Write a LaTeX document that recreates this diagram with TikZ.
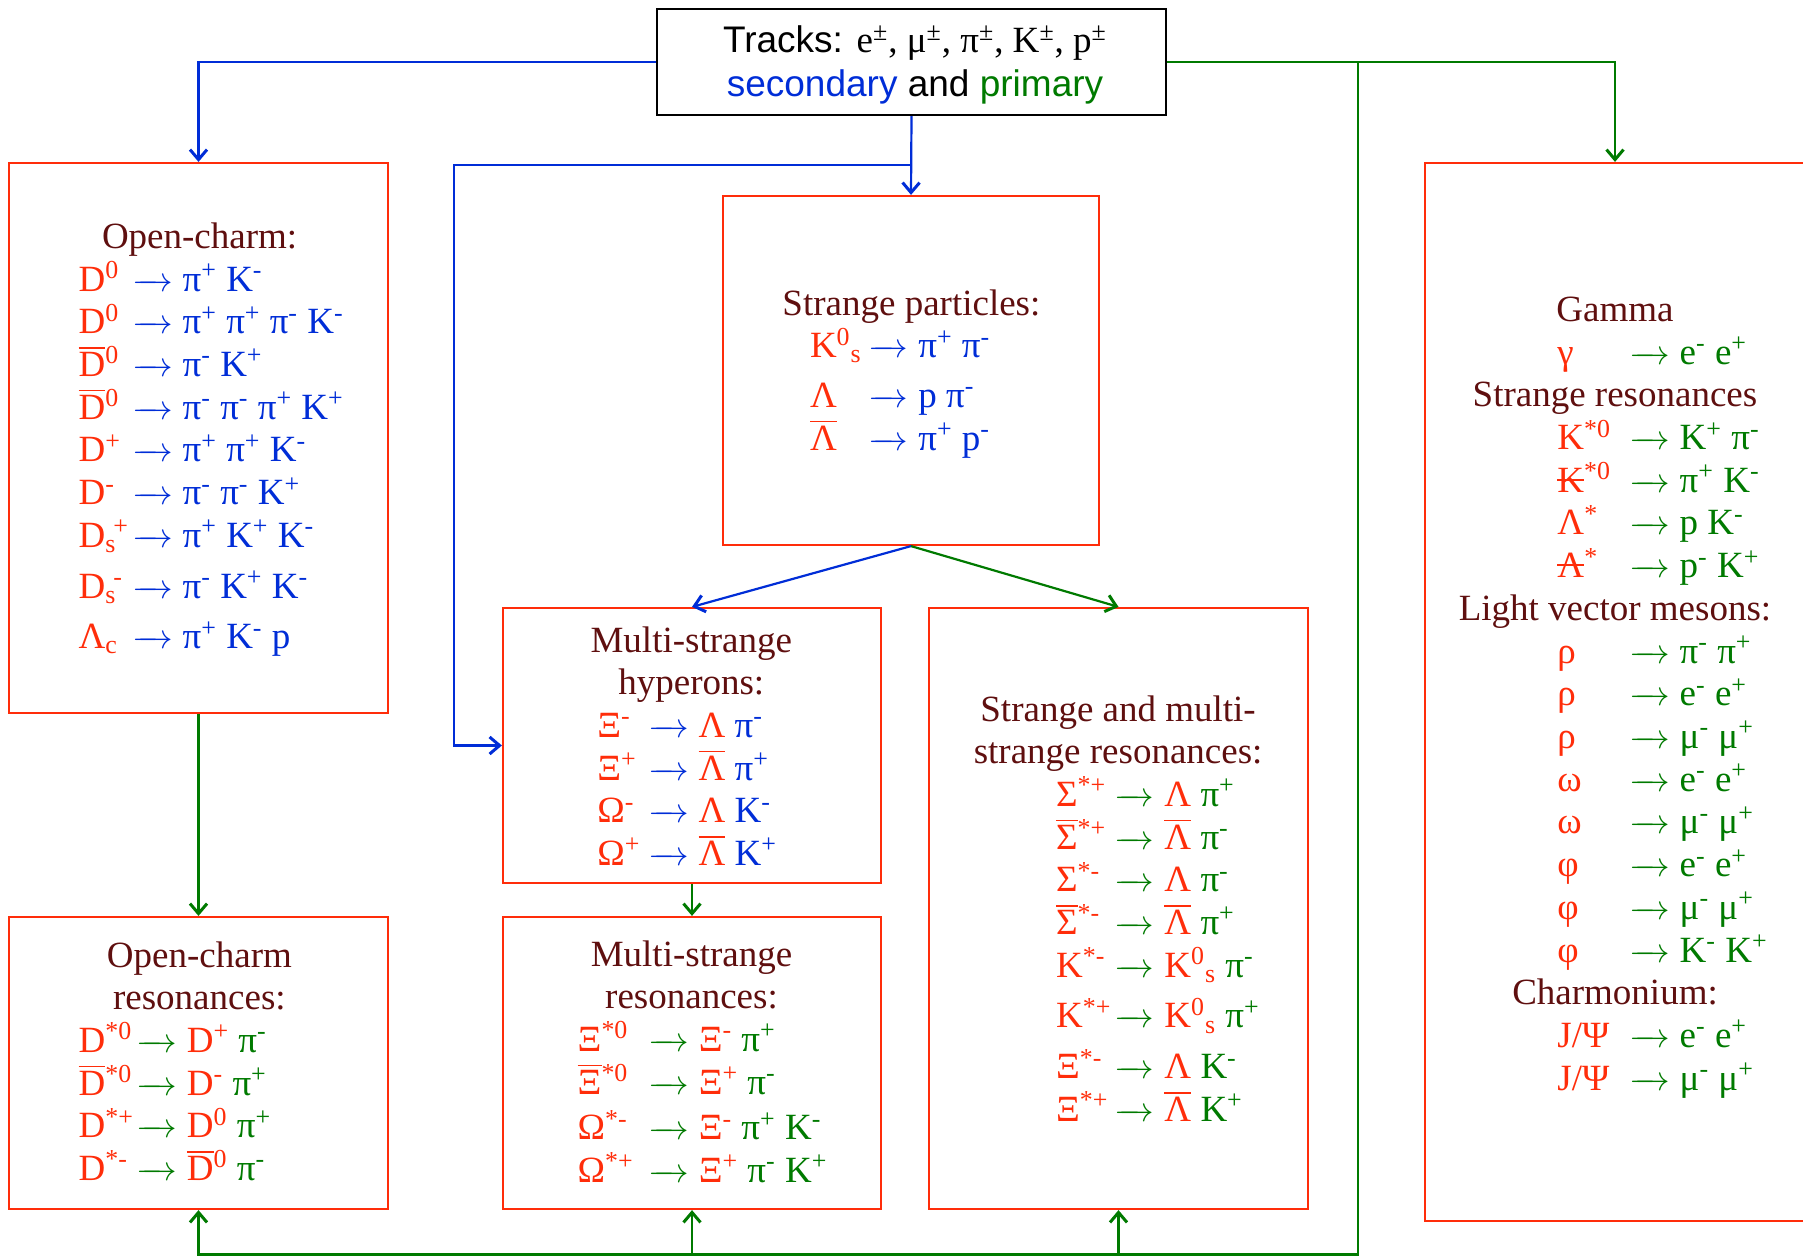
\documentclass[tikz,border=0pt]{standalone}
\usepackage{fontspec}
\setmainfont{Liberation Serif}
\newfontfamily\trkfont{Liberation Sans}
\usetikzlibrary{arrows.meta,positioning}

\definecolor{pred}{RGB}{255,45,10}
\definecolor{ttlc}{RGB}{95,15,15}
\definecolor{tblue}{RGB}{0,45,215}
\definecolor{tgreen}{RGB}{0,122,0}

\newcommand{\deckfont}{\fontsize{18.5}{21.35}\selectfont}
\newcommand{\trktxt}{\fontsize{18.5}{22}\selectfont\trkfont}
\newcommand{\hi}[1]{\smash{\textsuperscript{#1}}}
\newcommand{\lo}[1]{\smash{\textsubscript{#1}}}
\newcommand{\pr}[1]{\textcolor{pred}{#1}}
\newcommand{\anti}[1]{\ooalign{#1\cr\leaders\hrule height .8em depth -.75em\hfill\cr}}
\newcommand{\strk}[1]{\ooalign{#1\cr\leaders\hrule height .36em depth -.31em\hfill\cr}}
\newcommand{\decay}{$\mathrel{\relbar\mkern-11mu\rightarrow}$}
\newlength{\pw}
\newcommand{\rw}[2]{\makebox[\pw][l]{\color{pred}#1}\hspace{-2pt}\decay\hspace{5pt}#2}
\newcommand{\ttl}[2]{\hspace*{#1}\makebox[0pt]{\color{ttlc}#2}}

\tikzset{
  box/.style={draw=pred,line width=1.1pt,inner sep=0pt},
  txt/.style={inner sep=0pt,font=\deckfont,anchor=base west},
  link/.style={line width=1.1pt,-{Straight Barb[length=5pt,width=8.5pt,line width=1.5pt]}},
}

\begin{document}
\begin{tikzpicture}[x=0.5pt,y=-0.5pt]
\useasboundingbox (0,0) rectangle (1803,1257);

\node[draw=black,line width=1.1pt,inner sep=0pt,minimum width=254.5pt,minimum height=53pt] (trk) at (911.5,62) {};
\node[box,minimum width=189.5pt,minimum height=275pt] (ocharm) at (198.5,438) {};
\node[box,minimum width=188pt,minimum height=174.5pt] (strng) at (911,370.5) {};
\node[box,minimum width=189pt,minimum height=137.5pt] (mshyp) at (692,745.5) {};
\node[box,minimum width=189pt,minimum height=146pt] (msres) at (692,1063) {};
\node[box,minimum width=189.5pt,minimum height=300.5pt] (smres) at (1118.5,908.5) {};
\node[box,minimum width=189.5pt,minimum height=146pt] (ocres) at (198.5,1063) {};
\node[box,minimum width=190pt,minimum height=529pt] (gam) at (1615,692) {};

\node[anchor=base,inner sep=0pt,font=\trktxt] (trktxt) at (915,53) {\begin{tabular}[t]{@{}c@{}}
Tracks: {\rmfamily e\hi{±}, μ\hi{±}, π\hi{±}, K\hi{±}, p\hi{±}}\\
\textcolor{tblue}{secondary} and \textcolor{tgreen}{primary}
\end{tabular}};

\node[txt,text=tblue] (ocharmtxt) at (78.2,248.4) {\setlength{\pw}{28.9pt}\begin{tabular}[t]{@{}l@{}}
\ttl{60.5pt}{Open-charm:}\\
\rw{D\hi{0}}{π\hi{+} K\hi{-}}\\
\rw{D\hi{0}}{π\hi{+} π\hi{+} π\hi{-} K\hi{-}}\\
\rw{\anti{D}\hi{0}}{π\hi{-} K\hi{+}}\\
\rw{\anti{D}\hi{0}}{π\hi{-} π\hi{-} π\hi{+} K\hi{+}}\\
\rw{D\hi{+}}{π\hi{+} π\hi{+} K\hi{-}}\\
\rw{D\hi{-}}{π\hi{-} π\hi{-} K\hi{+}}\\
\rw{D\lo{s}\kern-1.5pt\hi{+}}{π\hi{+} K\hi{+} K\hi{-}}\\[4pt]
\rw{D\lo{s}\kern-1.5pt\hi{-}}{π\hi{-} K\hi{+} K\hi{-}}\\[4pt]
\rw{Λ\lo{c}}{π\hi{+} K\hi{-} p}
\end{tabular}};

\node[txt,text=tblue] (strngtxt) at (809.6,315) {\setlength{\pw}{31pt}\begin{tabular}[t]{@{}l@{}}
\ttl{50.7pt}{Strange particles:}\\
\rw{K\hi{0}\lo{s}}{π\hi{+} π\hi{-}}\\[3.5pt]
\rw{Λ}{p π\hi{-}}\\
\rw{\anti{Λ}}{π\hi{+} p\hi{-}}
\end{tabular}};

\node[txt,text=tblue] (mshyptxt) at (596.9,652) {\setlength{\pw}{27.5pt}\begin{tabular}[t]{@{}l@{}}
\ttl{47pt}{Multi-strange}\\
\ttl{47pt}{hyperons:}\\
\rw{Ξ\hi{-}}{\pr{Λ} π\hi{-}}\\
\rw{Ξ\hi{+}}{\pr{\anti{Λ}} π\hi{+}}\\
\rw{Ω\hi{-}}{\pr{Λ} K\hi{-}}\\
\rw{Ω\hi{+}}{\pr{\anti{Λ}} K\hi{+}}
\end{tabular}};

\node[txt,text=tgreen] (msrestxt) at (577.3,966) {\setlength{\pw}{37.4pt}\begin{tabular}[t]{@{}l@{}}
\ttl{56.9pt}{Multi-strange}\\
\ttl{56.9pt}{resonances:}\\
\rw{Ξ\hi{*0}}{\pr{Ξ\hi{-}} π\hi{+}}\\
\rw{\anti{Ξ}\hi{*0}}{\pr{Ξ\hi{+}} π\hi{-}}\\[1.5pt]
\rw{Ω\hi{*-}}{\pr{Ξ\hi{-}} π\hi{+} K\hi{-}}\\
\rw{Ω\hi{*+}}{\pr{Ξ\hi{+}} π\hi{-} K\hi{+}}
\end{tabular}};

\node[txt,text=tgreen] (smrestxt) at (1055.7,721) {\setlength{\pw}{31pt}\begin{tabular}[t]{@{}l@{}}
\ttl{31pt}{Strange and multi-}\\
\ttl{31pt}{strange resonances:}\\
\rw{Σ\hi{*+}}{\pr{Λ} π\hi{+}}\\
\rw{\anti{Σ}\hi{*+}}{\pr{\anti{Λ}} π\hi{-}}\\
\rw{Σ\hi{*-}}{\pr{Λ} π\hi{-}}\\
\rw{\anti{Σ}\hi{*-}}{\pr{\anti{Λ}} π\hi{+}}\\
\rw{K\hi{*-}}{\pr{K\hi{0}\lo{s}} π\hi{-}}\\[4pt]
\rw{K\hi{*+}}{\pr{K\hi{0}\lo{s}} π\hi{+}}\\[4pt]
\rw{Ξ\hi{*-}}{\pr{Λ} K\hi{-}}\\
\rw{Ξ\hi{*+}}{\pr{\anti{Λ}} K\hi{+}}
\end{tabular}};

\node[txt,text=tgreen] (ocrestxt) at (78.2,967) {\setlength{\pw}{31pt}\begin{tabular}[t]{@{}l@{}}
\ttl{60.4pt}{Open-charm}\\
\ttl{60.4pt}{resonances:}\\
\rw{D\hi{*0}}{\pr{D\hi{+}} π\hi{-}}\\
\rw{\anti{D}\hi{*0}}{\pr{D\hi{-}} π\hi{+}}\\
\rw{D\hi{*+}}{\pr{D\hi{0}} π\hi{+}}\\
\rw{D\hi{*-}}{\pr{\anti{D}\hi{0}} π\hi{-}}
\end{tabular}};

\node[txt,text=tgreen] (gamtxt) at (1557,321.5) {\setlength{\pw}{38pt}\begin{tabular}[t]{@{}l@{}}
\ttl{28.8pt}{Gamma}\\
\rw{γ}{e\hi{-} e\hi{+}}\\
\ttl{28.8pt}{Strange resonances}\\
\rw{K\hi{*0}}{K\hi{+} π\hi{-}}\\
\rw{\strk{K}\hi{*0}}{π\hi{+} K\hi{-}}\\
\rw{Λ\hi{*}}{p K\hi{-}}\\
\rw{\strk{Λ}\hi{*}}{p\hi{-} K\hi{+}}\\
\ttl{28.8pt}{Light vector mesons:}\\
\rw{ρ}{π\hi{-} π\hi{+}}\\
\rw{ρ}{e\hi{-} e\hi{+}}\\
\rw{ρ}{μ\hi{-} μ\hi{+}}\\
\rw{ω}{e\hi{-} e\hi{+}}\\
\rw{ω}{μ\hi{-} μ\hi{+}}\\
\rw{φ}{e\hi{-} e\hi{+}}\\
\rw{φ}{μ\hi{-} μ\hi{+}}\\
\rw{φ}{K\hi{-} K\hi{+}}\\
\ttl{28.8pt}{Charmonium:}\\
\rw{J/Ψ}{e\hi{-} e\hi{+}}\\
\rw{J/Ψ}{μ\hi{-} μ\hi{+}}
\end{tabular}};

\coordinate (bsplit) at (911,165);
\coordinate (bturn) at (454,165);
\coordinate (gsplit) at (1358,62);
\coordinate (gbot) at (1358,1254.5);

\draw[link,draw=tblue] (trk.west) -| (ocharm.north);
\draw[link,draw=tblue] (trk.south) -- (strng.north);
\draw[link,draw=tblue] (bsplit) -- (bturn) |- (mshyp.west);
\draw[link,draw=tgreen] (trk.east) -| (gam.north);
\draw[link,draw=tgreen] (gsplit) |- (ocres.south |- gbot) -- (ocres.south);
\draw[link,draw=tgreen] (msres.south |- gbot) -- (msres.south);
\draw[link,draw=tgreen] (smres.south |- gbot) -- (smres.south);
\draw[link,draw=tblue] (strng.south) -- (mshyp.north);
\draw[link,draw=tgreen] (strng.south) -- (smres.north);
\draw[link,draw=tgreen] (ocharm.south) -- (ocres.north);
\draw[link,draw=tgreen] (mshyp.south) -- (msres.north);
\end{tikzpicture}
\end{document}
